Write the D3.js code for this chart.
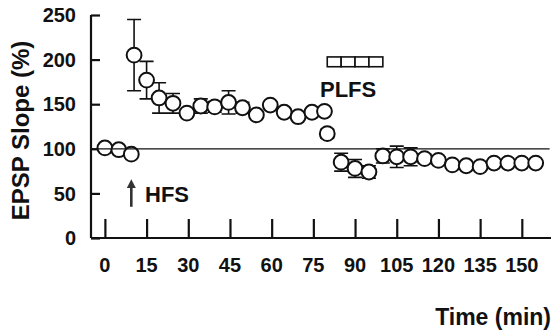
<!DOCTYPE html>
<html>
<head>
<meta charset="utf-8">
<script src="https://cdn.jsdelivr.net/npm/d3@7"></script>
<style>
  html, body { margin: 0; padding: 0; background: #fff; }
  svg { display: block; }
  text { font-family: "Liberation Sans", Arial, sans-serif; font-weight: bold; fill: #111; }
</style>
</head>
<body>
<svg id="chart" width="553" height="334"></svg>
<script>
// Baseline (before HFS)
const baseTime  = [0, 5, 9.5];
const baseSlope = [101, 99, 94];
const baseErr   = [3, 3, 4];

// After HFS, up to the PLFS
const ltpTime  = [10.5, 15, 19.5, 24.5, 29.5, 34.5, 39.5, 44.5, 49.5, 54.5, 59.5, 64.5, 69.5, 74.5, 79, 80];
const ltpSlope = [205, 177, 157, 151, 140, 148, 147, 152, 146, 138, 149, 141, 136, 141, 142, 117];
const ltpErr   = [40, 21, 17, 11, 4, 8, 6, 13, 6, 4, 4, 4, 3, 4, 4, 5];

// During and after the PLFS
const ldTime  = [85, 90, 95, 100, 105, 110, 115, 120, 125, 130, 135, 140, 145, 150, 155];
const ldSlope = [85, 78, 74, 92, 91, 91, 89, 87, 82, 81, 80, 84, 84, 84, 84];
const ldErr   = [10, 10, 7, 8, 12, 10, 5, 4, 3, 3, 3, 3, 3, 3, 3];

// PLFS train blocks (start minute, each 5 min long)
const plfsBlocks = [80, 85, 90, 95];
const plfsBlockLen = 5;

const xTicks = [0, 15, 30, 45, 60, 75, 90, 105, 120, 135, 150];
const yTicks = [0, 50, 100, 150, 200, 250];

const svg = d3.select("#chart");

const x = d3.scaleLinear().domain([-5, 160.5]).range([91, 551]);
const y = d3.scaleLinear().domain([0, 250]).range([238, 15]);

const points = [];
[[baseTime, baseSlope, baseErr], [ltpTime, ltpSlope, ltpErr], [ldTime, ldSlope, ldErr]]
  .forEach(([t, v, e]) => t.forEach((ti, i) => points.push({ t: ti, v: v[i], e: e[i] })));

// Axes
const yAxis = d3.axisRight(y).tickValues(yTicks).tickSize(9).tickFormat("");
const gy = svg.append("g").attr("transform", `translate(${x(-5)},0)`).call(yAxis);
gy.select(".domain").attr("d", `M0,${y(250)}V${y(0)}`);

const xAxis = d3.axisTop(x).tickValues(xTicks).tickSize(19).tickFormat("");
const gx = svg.append("g").attr("transform", `translate(0,${y(0)})`).call(xAxis);
gx.select(".domain").attr("d", `M${x(-5)},0H${x(160.5)}`);

svg.selectAll(".domain, .tick line")
  .attr("stroke", "#111").attr("stroke-width", 2.2).attr("fill", "none");

// Tick labels
svg.append("g").selectAll("text").data(yTicks).join("text")
  .attr("x", 76).attr("y", d => y(d)).attr("dy", "0.36em")
  .attr("text-anchor", "end").attr("font-size", 20).text(d => d);

svg.append("g").selectAll("text").data(xTicks).join("text")
  .attr("x", d => x(d)).attr("y", 272)
  .attr("text-anchor", "middle").attr("font-size", 20).text(d => d);

// Axis titles
svg.append("text")
  .attr("transform", `translate(29,${(y(0) + y(250)) / 2 + 4}) rotate(-90)`)
  .attr("text-anchor", "middle").attr("font-size", 24).text("EPSP Slope (%)");

svg.append("text")
  .attr("x", 551).attr("y", 325).attr("text-anchor", "end")
  .attr("font-size", 23).text("Time (min)");

// Error bars
const capW = 7;
const eb = svg.append("g").attr("stroke", "#111").attr("stroke-width", 1.6).attr("fill", "none");
eb.selectAll("path").data(points).join("path")
  .attr("d", d => {
    const cx = x(d.t), top = y(d.v + d.e), bot = y(d.v - d.e);
    return `M${cx},${top}V${bot}M${cx - capW},${top}H${cx + capW}M${cx - capW},${bot}H${cx + capW}`;
  });

// Data circles
svg.append("g").selectAll("circle").data(points).join("circle")
  .attr("cx", d => x(d.t)).attr("cy", d => y(d.v)).attr("r", 7.4)
  .attr("fill", "#fff").attr("stroke", "#111").attr("stroke-width", 2);

// 100% reference line
svg.append("line")
  .attr("x1", x(-5)).attr("x2", x(160)).attr("y1", y(100)).attr("y2", y(100))
  .attr("stroke", "#111").attr("stroke-width", 1.2);

// PLFS train
svg.append("g").selectAll("rect").data(plfsBlocks).join("rect")
  .attr("x", d => x(d)).attr("width", d => x(d + plfsBlockLen) - x(d))
  .attr("y", y(203)).attr("height", y(192) - y(203))
  .attr("fill", "#fff").attr("stroke", "#111").attr("stroke-width", 1.6);

svg.append("text")
  .attr("x", x(87.5)).attr("y", 97).attr("text-anchor", "middle")
  .attr("font-size", 22).text("PLFS");

// HFS arrow and label
const ax = x(9.5);
svg.append("path")
  .attr("d", `M${ax},${y(35)}V${y(60)}`)
  .attr("stroke", "#333").attr("stroke-width", 2.6).attr("fill", "none");
svg.append("path")
  .attr("d", `M${ax - 4.5},${y(56)}L${ax},${y(66)}L${ax + 4.5},${y(56)}Z`)
  .attr("fill", "#333");
svg.append("text")
  .attr("x", 145).attr("y", 202).attr("font-size", 22).text("HFS");
</script>
</body>
</html>
